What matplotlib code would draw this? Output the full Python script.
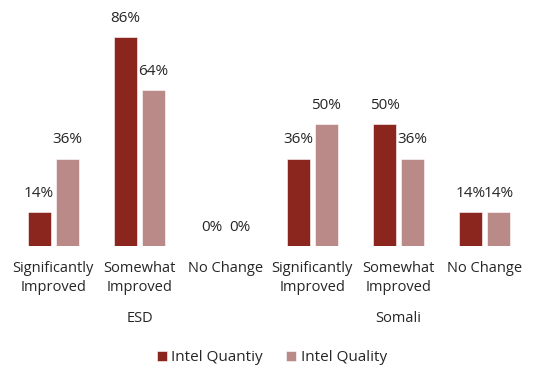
import matplotlib.pyplot as plt
import numpy as np

plt.rcParams['font.family'] = ['Open Sans', 'DejaVu Sans']

categories = ['Significantly\nImproved', 'Somewhat\nImproved', 'No Change',
              'Significantly\nImproved', 'Somewhat\nImproved', 'No Change']
groups = ['ESD', 'Somali']
quantity = [14, 86, 0, 36, 50, 14]
quality = [36, 64, 0, 50, 36, 14]

dark = '#8B261F'
light = '#B98A87'
text_col = '#262626'

x = np.arange(len(categories))
w = 0.267
off = 0.162

fig = plt.figure(figsize=(5.33, 3.69), dpi=100)
ax = fig.add_axes([10 / 533, 123 / 369, 518 / 533, 243 / 369])

b1 = ax.bar(x - off, quantity, w, color=dark, edgecolor='white', linewidth=0.4,
            label='Intel Quantiy')
b2 = ax.bar(x + off, quality, w, color=light, edgecolor='white', linewidth=0.4,
            label='Intel Quality')

for bars, vals in [(b1, quantity), (b2, quality)]:
    for rect, v in zip(bars, vals):
        ax.annotate('%d%%' % v, xy=(rect.get_x() + rect.get_width() / 2, v),
                    xytext=(0, 8), textcoords='offset points', ha='center',
                    va='bottom', fontsize=11, color=text_col)

ax.set_xlim(-0.5, len(categories) - 0.5)
ax.set_ylim(0, 100)
ax.set_xticks(x)
ax.set_xticklabels(categories, fontsize=10.5, color=text_col, linespacing=1.35)
ax.tick_params(axis='x', length=0, pad=11)
ax.set_yticks([])
for s in ax.spines.values():
    s.set_visible(False)

# group names under each set of three categories
for i, g in enumerate(groups):
    ax.text(3 * i + 1, -0.3, g, transform=ax.get_xaxis_transform(),
            ha='center', va='center', fontsize=10.5, color=text_col)

fig.legend(handles=[b1, b2], loc='center', bbox_to_anchor=(0.51, 0.03),
           ncol=2, frameon=False, fontsize=11, handlelength=0.65,
           handleheight=0.65, handletextpad=0.3, columnspacing=1.5,
           labelcolor=text_col)

fig.savefig('out.png', dpi=100)
